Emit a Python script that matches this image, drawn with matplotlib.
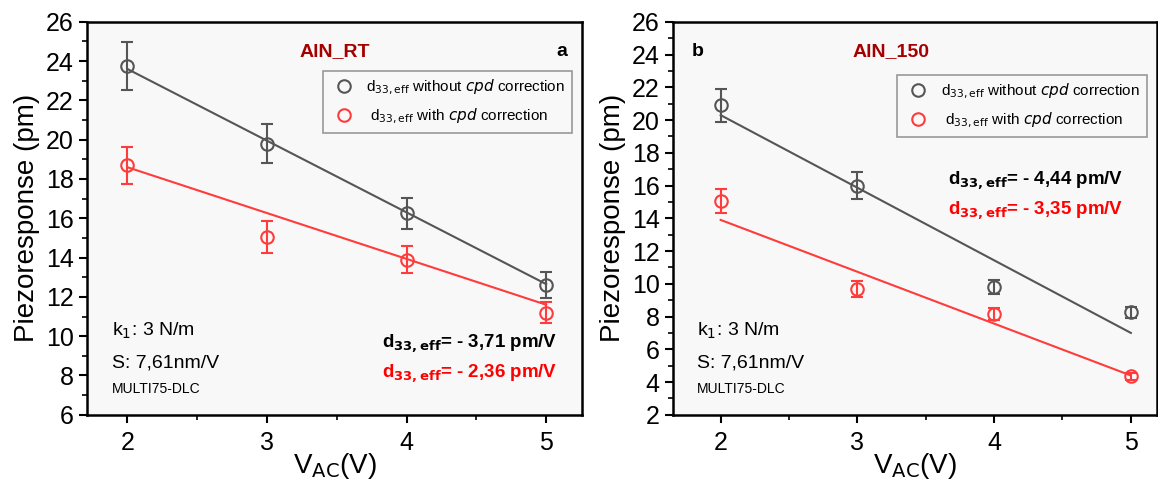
import numpy as np
import matplotlib
matplotlib.use("Agg")
import matplotlib.pyplot as plt
from matplotlib.ticker import MultipleLocator
from matplotlib.lines import Line2D

plt.rcParams['font.family'] = ['Liberation Sans', 'DejaVu Sans']

# data
v_ac = [2, 3, 4, 5]

# panel a - AlN_RT
a_no_cpd = [23.75, 19.8, 16.25, 12.6]
a_no_cpd_err = [1.2, 1.0, 0.8, 0.65]
a_cpd = [18.7, 15.05, 13.9, 11.2]
a_cpd_err = [0.95, 0.8, 0.7, 0.55]
a_fit_x = [2, 5]
a_fit_no_cpd = [23.6, 12.65]
a_fit_cpd = [18.6, 11.6]

# panel b - AlN_150
b_no_cpd = [20.9, 16.0, 9.8, 8.25]
b_no_cpd_err = [1.0, 0.8, 0.45, 0.35]
b_cpd = [15.05, 9.7, 8.15, 4.35]
b_cpd_err = [0.75, 0.5, 0.35, 0.2]
b_fit_x = [2, 5]
b_fit_no_cpd = [20.3, 7.0]
b_fit_cpd = [13.9, 4.4]

gray = '#555555'
red = '#ff3b3b'
darkred = '#a50000'

fig = plt.figure(figsize=(11.58, 4.84), dpi=100)
ax1 = fig.add_axes([0.075, 0.143, 0.428, 0.812])
ax2 = fig.add_axes([0.581, 0.143, 0.418, 0.812])


def panel(ax, y1, e1, y2, e2, fx, f1, f2, ylim, xlim, leg_y):
    ax.set_facecolor('#f8f8f8')
    ax.plot(fx, f1, color=gray, lw=1.5, zorder=2)
    ax.plot(fx, f2, color=red, lw=1.5, zorder=2)
    ax.errorbar(v_ac, y1, yerr=e1, fmt='o', mfc='none', mec=gray, ecolor=gray,
                ms=9, mew=1.5, capsize=4, elinewidth=1.5, capthick=1.5, zorder=3)
    ax.errorbar(v_ac, y2, yerr=e2, fmt='o', mfc='none', mec=red, ecolor=red,
                ms=9, mew=1.5, capsize=4, elinewidth=1.5, capthick=1.5, zorder=3)
    ax.set_xlim(xlim)
    ax.set_ylim(ylim)
    ax.set_xticks(v_ac)
    ax.xaxis.set_minor_locator(MultipleLocator(0.5))
    ax.yaxis.set_major_locator(MultipleLocator(2))
    ax.yaxis.set_minor_locator(MultipleLocator(1))
    ax.tick_params(which='major', direction='out', length=6, width=1.5, labelsize=18)
    ax.tick_params(which='minor', direction='out', length=3.5, width=1.2)
    ax.tick_params(axis='x', pad=6)
    for s in ax.spines.values():
        s.set_linewidth(1.8)
    ax.set_xlabel(r'V$_{\mathrm{AC}}$(V)', fontsize=20, labelpad=-3)
    ax.set_ylabel('Piezoresponse (pm)', fontsize=20, labelpad=4)
    handles = [
        Line2D([], [], ls='none', marker='o', mfc='none', mec=gray, ms=9, mew=1.5),
        Line2D([], [], ls='none', marker='o', mfc='none', mec=red, ms=9, mew=1.5),
    ]
    labels = [r'd$_{33,\mathrm{eff}}$ without $cpd$ correction',
              r' d$_{33,\mathrm{eff}}$ with $cpd$ correction']
    leg = ax.legend(handles, labels, loc='upper right', bbox_to_anchor=(0.995, leg_y),
                    fontsize=11, handletextpad=0.6, frameon=True, fancybox=False,
                    borderpad=0.45, labelspacing=0.65, handlelength=1.8)
    leg.get_frame().set_edgecolor('#999999')
    leg.get_frame().set_linewidth(1.2)
    leg.get_frame().set_facecolor('#f8f8f8')
    leg.get_frame().set_alpha(1)
    ax.text(0.05, 0.20, r'k$_1$: 3 N/m', transform=ax.transAxes, fontsize=14)
    ax.text(0.05, 0.12, 'S: 7,61nm/V', transform=ax.transAxes, fontsize=14)
    ax.text(0.05, 0.055, 'MULTI75-DLC', transform=ax.transAxes, fontsize=10)


panel(ax1, a_no_cpd, a_no_cpd_err, a_cpd, a_cpd_err, a_fit_x, a_fit_no_cpd, a_fit_cpd,
      (6, 26), (1.71, 5.26), 0.895)
panel(ax2, b_no_cpd, b_no_cpd_err, b_cpd, b_cpd_err, b_fit_x, b_fit_no_cpd, b_fit_cpd,
      (2, 26), (1.65, 5.19), 0.885)

ax1.text(0.5, 0.925, 'AlN_RT', transform=ax1.transAxes, fontsize=14,
         fontweight='bold', color=darkred, ha='center', va='center')
ax1.text(0.97, 0.925, 'a', transform=ax1.transAxes, fontsize=14,
         fontweight='bold', ha='right', va='center')
ax1.text(0.95, 0.17, r'd$_{\mathbf{33,eff}}$= - 3,71 pm/V', transform=ax1.transAxes,
         fontsize=13.5, fontweight='bold', ha='right', color='black')
ax1.text(0.95, 0.095, r'd$_{\mathbf{33,eff}}$= - 2,36 pm/V', transform=ax1.transAxes,
         fontsize=13.5, fontweight='bold', ha='right', color='red')

ax2.text(0.45, 0.925, 'AlN_150', transform=ax2.transAxes, fontsize=14,
         fontweight='bold', color=darkred, ha='center', va='center')
ax2.text(0.04, 0.925, 'b', transform=ax2.transAxes, fontsize=14,
         fontweight='bold', ha='left', va='center')
ax2.text(0.93, 0.585, r'd$_{\mathbf{33,eff}}$= - 4,44 pm/V', transform=ax2.transAxes,
         fontsize=13.5, fontweight='bold', ha='right', color='black')
ax2.text(0.93, 0.51, r'd$_{\mathbf{33,eff}}$= - 3,35 pm/V', transform=ax2.transAxes,
         fontsize=13.5, fontweight='bold', ha='right', color='red')

fig.savefig('out.png', dpi=100)
